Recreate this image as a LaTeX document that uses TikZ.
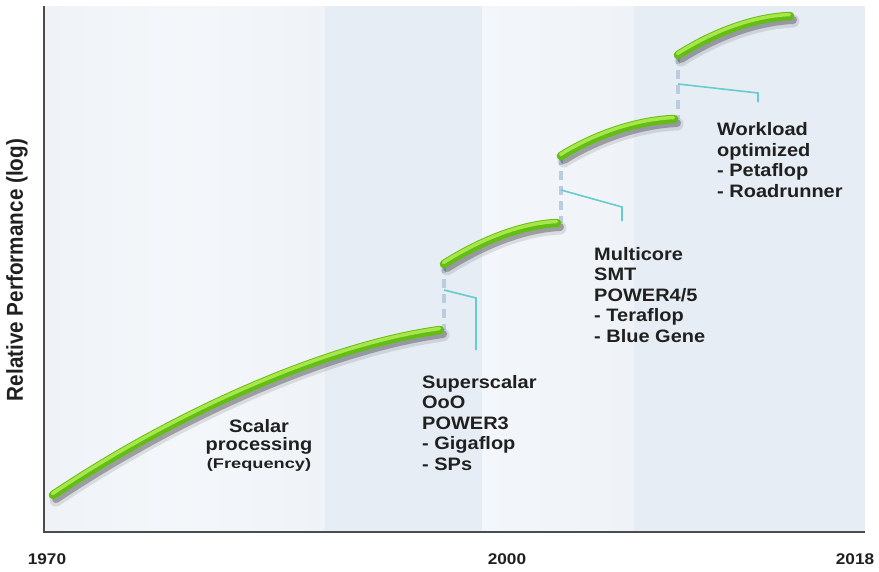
\documentclass[tikz,border=0pt]{standalone}
\usepackage{fontspec}
\setmainfont{Liberation Sans}
\newfontfamily\labfont[FakeStretch=1.11]{Liberation Sans}
\newfontfamily\freqfont[FakeStretch=1.3]{Liberation Sans}
\newfontfamily\axisfont[FakeStretch=0.9]{Liberation Sans}
\usepackage[dvipsnames]{xcolor}
\usepackage{tikz}
\usetikzlibrary{positioning}

\definecolor{bandA}{HTML}{EFF3F8}
\definecolor{bandAl}{HTML}{F4F7FA}
\definecolor{bandB}{HTML}{E7EDF5}
\definecolor{bandC}{HTML}{F3F6FA}
\definecolor{bandD}{HTML}{E7EDF5}
\definecolor{tubeGreen}{HTML}{62BE14}
\definecolor{tubeLight}{HTML}{A9E64A}
\definecolor{jumpBlue}{HTML}{BACDE0}
\definecolor{calloutTeal}{HTML}{66CCCC}
\definecolor{axisGray}{HTML}{4C4C4C}
\definecolor{textDark}{HTML}{202020}

\begin{document}
\begin{tikzpicture}[x=1pt,y=-1pt,
  tube/.style={line width=8.5pt,line cap=round,draw=tubeGreen,
    preaction={draw=black,draw opacity=.10,line width=13pt,line cap=round,transform canvas={shift={(3,5)}}},
    preaction={draw=black,draw opacity=.28,line width=8pt,line cap=round,transform canvas={shift={(3,4)}}},
    postaction={draw=tubeLight,line width=3.5pt,line cap=round,transform canvas={shift={(-0.5,-1.5)}}}},
  jump/.style={draw=jumpBlue,line width=4pt,dash pattern=on 9pt off 6pt},
  callout/.style={draw=calloutTeal,line width=1.6pt},
  lab/.style={font=\labfont\bfseries\fontsize{18}{20.5}\selectfont,text=textDark,
    align=left,anchor=base west,inner sep=0pt},
  year/.style={font=\labfont\bfseries\fontsize{15.5}{16}\selectfont,text=textDark,inner sep=0pt}]
  \useasboundingbox[fill=white] (0,0) rectangle (879,571);
  \shade[left color=bandA,right color=bandAl] (44,6) rectangle (180,532);
  \shade[left color=bandAl,right color=bandA] (180,6) rectangle (325,532);
  \fill[bandB] (325,6) rectangle (482,532);
  \shade[left color=bandC,right color=bandA] (482,6) rectangle (634,532);
  \fill[bandD] (634,6) rectangle (865,532);
  \draw[axisGray,line width=2.5pt] (44,6) -- (44,532) -- (865,532);

  \coordinate (s1a) at (53,495);  \coordinate (s1b) at (440,330);
  \coordinate (s2a) at (444,264); \coordinate (s2b) at (557,223);
  \coordinate (s3a) at (561,156); \coordinate (s3b) at (674,119);
  \coordinate (s4a) at (678,55);  \coordinate (s4b) at (790,16);

  \draw[jump] (s2a) -- (s2a |- s1b);
  \draw[jump] (s3a) -- (s3a |- s2b);
  \draw[jump] (s4a) -- (s4a |- s3b);

  \draw[tube] (s1a) .. controls (180,410) and (330,345) .. (s1b);
  \draw[tube] (s2a) .. controls (471,247) and (514,225) .. (s2b);
  \draw[tube] (s3a) .. controls (588,139) and (630,121) .. (s3b);
  \draw[tube] (s4a) .. controls (705,38) and (746,18) .. (s4b);

  \coordinate (j1) at (444,290); \coordinate (k1) at (476,298); \coordinate (e1) at (476,350);
  \coordinate (j2) at (561,190); \coordinate (k2) at (622,207); \coordinate (e2) at (622,221);
  \coordinate (j3) at (678,84);  \coordinate (k3) at (758,93);  \coordinate (e3) at (758,102);
  \draw[callout] (j1) -- (k1) -- (e1);
  \draw[callout] (j2) -- (k2) -- (e2);
  \draw[callout] (j3) -- (k3) -- (e3);

  \node[lab] (superscalar) at (422,470) {Superscalar\\OoO\\POWER3\\- Gigaflop\\- SPs};
  \node[lab] (multicore) at (594,342) {Multicore\\SMT\\POWER4/5\\- Teraflop\\- Blue Gene};
  \node[lab] (workload) at (717,197) {Workload\\optimized\\- Petaflop\\- Roadrunner};
  \node[lab,align=center,anchor=base] (scalar) at (259,468)
    {Scalar\\[-2.5pt]processing\\[-3pt]{\freqfont\fontsize{14}{14}\selectfont (Frequency)}};

  \node[rotate=90,text=textDark,font=\axisfont\bfseries\fontsize{23}{24}\selectfont] (ylabel) at (17,270) {Relative Performance (log)};
  \node[year] (y1970) at (47,559) {1970};
  \node[year] (y2000) at (507,559) {2000};
  \node[year] (y2018) at (855,559) {2018};
\end{tikzpicture}
\end{document}
